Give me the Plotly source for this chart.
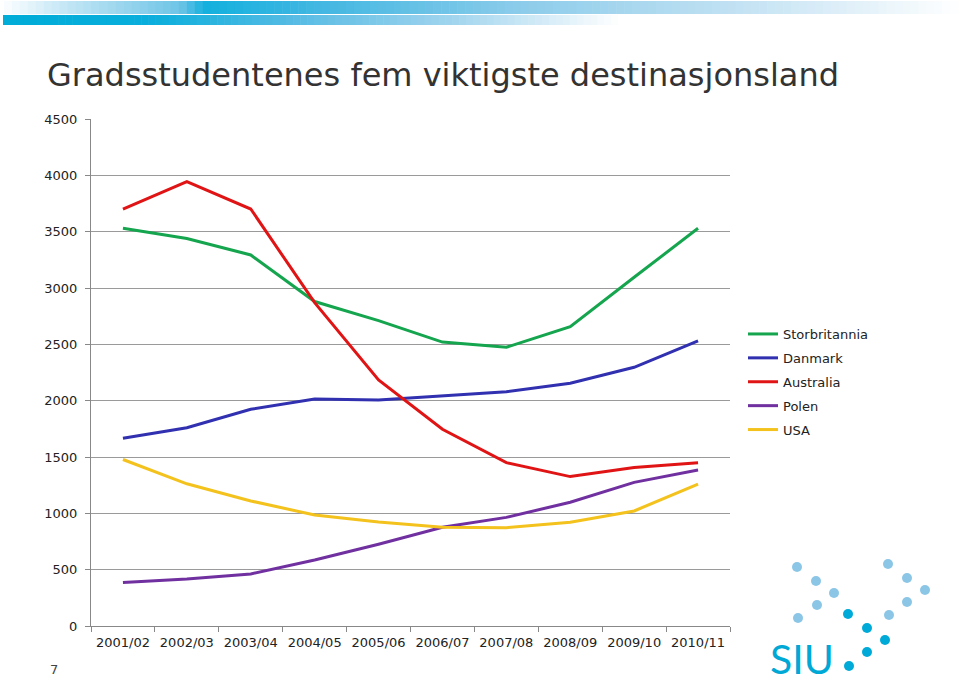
import plotly.graph_objects as go

# ---------------- data ----------------
years = ["2001/02", "2002/03", "2003/04", "2004/05", "2005/06",
         "2006/07", "2007/08", "2008/09", "2009/10", "2010/11"]
storbritannia = [3530, 3440, 3293, 2880, 2710, 2520, 2474, 2657, 3095, 3530]
danmark = [1666, 1760, 1923, 2015, 2006, 2044, 2080, 2154, 2296, 2530]
australia = [3701, 3944, 3701, 2870, 2184, 1746, 1450, 1326, 1406, 1450]
polen = [385, 417, 462, 586, 725, 876, 964, 1098, 1275, 1385]
usa = [1478, 1262, 1110, 985, 924, 876, 873, 920, 1021, 1260]

series_names = ["Storbritannia", "Danmark", "Australia", "Polen", "USA"]
series_values = [storbritannia, danmark, australia, polen, usa]
series_colors = ["#15a54e", "#3030b0", "#e01414", "#7030a0", "#f4c21c"]

title_text = "Gradsstudentenes fem viktigste destinasjonsland"
y_ticks = [0, 500, 1000, 1500, 2000, 2500, 3000, 3500, 4000, 4500]

# ---------------- layout geometry (pixels) ----------------
W, H = 960, 685
L, R, T, B = 91, 730, 119, 626  # plot area edges


def px(x):
    return (x - L) / (R - L)


def py(y):
    return (B - y) / (B - T)


fig = go.Figure()
for i, (name, vals, col) in enumerate(zip(series_names, series_values, series_colors)):
    fig.add_trace(go.Scatter(
        x=years, y=vals, name=name, mode="lines",
        line=dict(color=col, width=3),
        legendgroup=name,
    ))

shapes = []


def lerp(c1, c2, t):
    return tuple(int(round(a + (b - a) * t)) for a, b in zip(c1, c2))


def grad_color(stops, x):
    for (x0, c0), (x1, c1) in zip(stops[:-1], stops[1:]):
        if x0 <= x <= x1:
            t = 0 if x1 == x0 else (x - x0) / (x1 - x0)
            return lerp(c0, c1, t)
    return stops[-1][1]


def add_gradient_bar(x_start, x_end, y0, y1, stops, n=80):
    step = (x_end - x_start) / n
    for k in range(n):
        xa = x_start + k * step
        xb = xa + step + 0.6
        c = grad_color(stops, xa + step / 2)
        shapes.append(dict(type="rect", xref="paper", yref="paper",
                           x0=px(xa), x1=px(xb), y0=py(y1), y1=py(y0),
                           fillcolor="rgb(%d,%d,%d)" % c, line=dict(width=0),
                           layer="above"))


white = (255, 255, 255)
upper_stops = [(0, white), (60, (200, 232, 246)), (180, (110, 196, 230)),
               (205, (20, 176, 222)), (330, (70, 184, 226)), (520, (140, 204, 234)),
               (760, (200, 228, 244)), (960, white)]
lower_stops = [(0, (0, 172, 216)), (150, (10, 174, 220)), (300, (90, 188, 228)),
               (450, (160, 212, 238)), (620, white)]
add_gradient_bar(4, 958, 1, 14, upper_stops, n=120)
add_gradient_bar(3, 625, 15, 25, lower_stops, n=90)

# logo dots
light = "#8cc6e6"
strong = "#00aad8"
dots_light = [(797, 567), (816, 581), (834, 593), (817, 605), (798, 618),
              (888, 564), (907, 578), (925, 590), (907, 602), (889, 615)]
dots_strong = [(848, 614), (867, 628), (885, 640), (867, 652), (849, 666)]
r = 5
for (cx, cy), col in [(d, light) for d in dots_light] + [(d, strong) for d in dots_strong]:
    shapes.append(dict(type="circle", xref="paper", yref="paper",
                       x0=px(cx - r), x1=px(cx + r), y0=py(cy + r), y1=py(cy - r),
                       fillcolor=col, line=dict(width=0)))

annotations = [
    dict(text="SIU", xref="paper", yref="paper", x=px(768), y=py(685),
         xanchor="left", yanchor="bottom", showarrow=False,
         font=dict(family="Lato", size=41, color="#00a8d6")),
    dict(text="7", xref="paper", yref="paper", x=px(54), y=py(669),
         xanchor="center", yanchor="middle", showarrow=False,
         font=dict(family="DejaVu Sans", size=13, color="#444444")),
]

fig.update_layout(
    width=W, height=H,
    margin=dict(l=L, r=W - R, t=T, b=H - B, pad=0),
    paper_bgcolor="white", plot_bgcolor="white",
    title=dict(text=title_text, xref="container", yref="container",
               x=47 / W, xanchor="left", y=1 - 75 / H, yanchor="middle",
               font=dict(family="DejaVu Sans", size=32, color="#333333")),
    showlegend=True,
    legend=dict(x=px(743), y=py(319), xanchor="left", yanchor="top",
                font=dict(family="DejaVu Sans", size=13, color="#222222"),
                tracegroupgap=4, bgcolor="rgba(0,0,0,0)", traceorder="grouped"),
    shapes=shapes,
    annotations=annotations,
    font=dict(family="DejaVu Sans", size=13, color="#222222"),
)

fig.update_xaxes(
    type="category", range=[-0.5, 9.5], tickson="boundaries",
    ticks="outside", ticklen=5, tickcolor="#888888",
    showline=True, linecolor="#888888", linewidth=1, ticklabelstandoff=4,
    showgrid=False, tickfont=dict(size=13, color="#222222"),
)
fig.update_yaxes(
    range=[0, 4500], tickvals=y_ticks, ticks="outside", ticklen=5,
    tickcolor="#888888", showline=True, linecolor="#888888", linewidth=1,
    showgrid=True, gridcolor="#9a9a9a", gridwidth=1, zeroline=False,
    ticklabelstandoff=5, tickfont=dict(size=13, color="#222222"),
)

fig.write_html("out.html")
